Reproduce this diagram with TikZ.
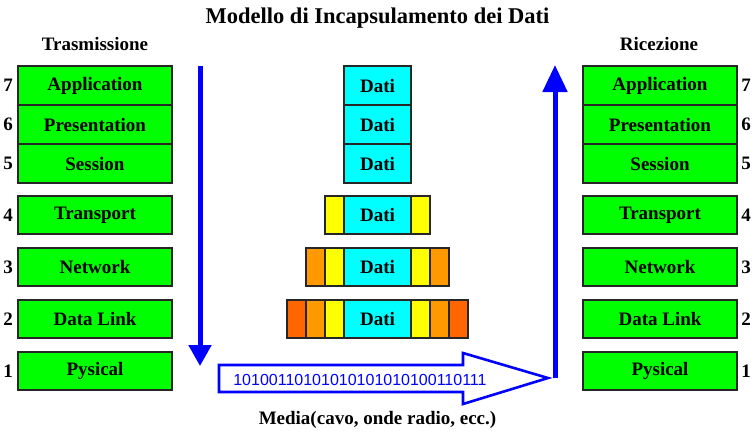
\documentclass[tikz,border=0pt]{standalone}
\usepackage{fontspec}
\setmainfont{Liberation Serif}
\newfontfamily\binfont{Liberation Sans}
\usetikzlibrary{arrows.meta}
\definecolor{lgreen}{RGB}{0,255,0}
\definecolor{dcyan}{RGB}{0,255,255}
\definecolor{hyellow}{RGB}{255,255,0}
\definecolor{horange}{RGB}{255,153,0}
\definecolor{hred}{RGB}{255,102,0}
\definecolor{pblue}{RGB}{0,0,255}
\begin{document}
\begin{tikzpicture}[x=1pt,y=-1pt,
  font=\fontsize{19}{21}\selectfont\bfseries,
  box/.style={draw=black!85, line width=1.2pt, inner sep=0pt, anchor=center},
  layer/.style={box, fill=lgreen, minimum width=154pt, minimum height=#1},
  layer/.default=38pt,
  dati/.style={box, fill=dcyan, minimum width=67pt, minimum height=#1},
  dati/.default=38pt,
  hdr/.style={box, minimum width=19pt, minimum height=38pt},
  num/.style={inner sep=0pt, anchor=center},
  bigarrow/.style={pblue, line width=5pt}]
\useasboundingbox (0,0) rectangle (755,437);

% titles
\node[num, font=\fontsize{22.5}{24}\selectfont\bfseries] (title) at (377.5,18) {Modello di Incapsulamento dei Dati};
\node[num] (tx) at (95,44) {Trasmissione};
\node[num] (rx) at (659,44) {Ricezione};
\node[num] (media) at (377.5,420) {Media(cavo, onde radio, ecc.)};

% left stack
\node[layer=39pt] (l7) at (95,85.5) {Application};
\node[layer=39pt] (l6) at (95,124.5) {Presentation};
\node[layer=39pt] (l5) at (95,163.5) {Session};
\node[layer] (l4) at (95,215) {Transport};
\node[layer] (l3) at (95,267) {Network};
\node[layer] (l2) at (95,319) {Data Link};
\node[layer] (l1) at (95,371) {Pysical};
\node[num] (ln7) at (8,85) {7};
\node[num] (ln6) at (8,124) {6};
\node[num] (ln5) at (8,163) {5};
\node[num] (ln4) at (8,215) {4};
\node[num] (ln3) at (8,267) {3};
\node[num] (ln2) at (8,319) {2};
\node[num] (ln1) at (8,371) {1};

% right stack
\node[layer=39pt] (r7) at (660,85.5) {Application};
\node[layer=39pt] (r6) at (660,124.5) {Presentation};
\node[layer=39pt] (r5) at (660,163.5) {Session};
\node[layer] (r4) at (660,215) {Transport};
\node[layer] (r3) at (660,267) {Network};
\node[layer] (r2) at (660,319) {Data Link};
\node[layer] (r1) at (660,371) {Pysical};
\node[num] (rn7) at (746,85) {7};
\node[num] (rn6) at (746,124) {6};
\node[num] (rn5) at (746,163) {5};
\node[num] (rn4) at (746,215) {4};
\node[num] (rn3) at (746,267) {3};
\node[num] (rn2) at (746,319) {2};
\node[num] (rn1) at (746,371) {1};

% data units
\node[dati=39pt] (d7) at (377.5,85.5) {Dati};
\node[dati=39pt] (d6) at (377.5,124.5) {Dati};
\node[dati=39pt] (d5) at (377.5,163.5) {Dati};

\node[dati] (d4) at (377.5,215) {Dati};
\node[hdr, fill=hyellow] (h4a) at (334.5,215) {};
\node[hdr, fill=hyellow] (h4b) at (420.5,215) {};

\node[dati] (d3) at (377.5,267) {Dati};
\node[hdr, fill=hyellow] (h3a) at (334.5,267) {};
\node[hdr, fill=hyellow] (h3b) at (420.5,267) {};
\node[hdr, fill=horange] (h3c) at (315.5,267) {};
\node[hdr, fill=horange] (h3d) at (439.5,267) {};

\node[dati] (d2) at (377.5,319) {Dati};
\node[hdr, fill=hyellow] (h2a) at (334.5,319) {};
\node[hdr, fill=hyellow] (h2b) at (420.5,319) {};
\node[hdr, fill=horange] (h2c) at (315.5,319) {};
\node[hdr, fill=horange] (h2d) at (439.5,319) {};
\node[hdr, fill=hred] (h2e) at (296.5,319) {};
\node[hdr, fill=hred] (h2f) at (458.5,319) {};

% vertical arrows
\coordinate (downS) at (200,66);
\coordinate (downE) at (200,366);
\draw[bigarrow, -{Triangle[width=22pt,length=21pt]}] (downS) -- (downE);
\coordinate (upS) at (555,378);
\coordinate (upE) at (555,65);
\draw[bigarrow, -{Triangle[width=24pt,length=27pt]}] (upS) -- (upE);

% media block arrow
\draw[pblue, line width=2.6pt, fill=white, line join=miter]
  (219,365) -- (463,365) -- (463,353) -- (548,378) -- (463,404) -- (463,392) -- (219,392) -- cycle;
\node[num, font=\binfont\fontsize{16}{18}\selectfont, text=pblue] (bits) at (360,380) {10100110101010101010100110111};
\end{tikzpicture}
\end{document}
